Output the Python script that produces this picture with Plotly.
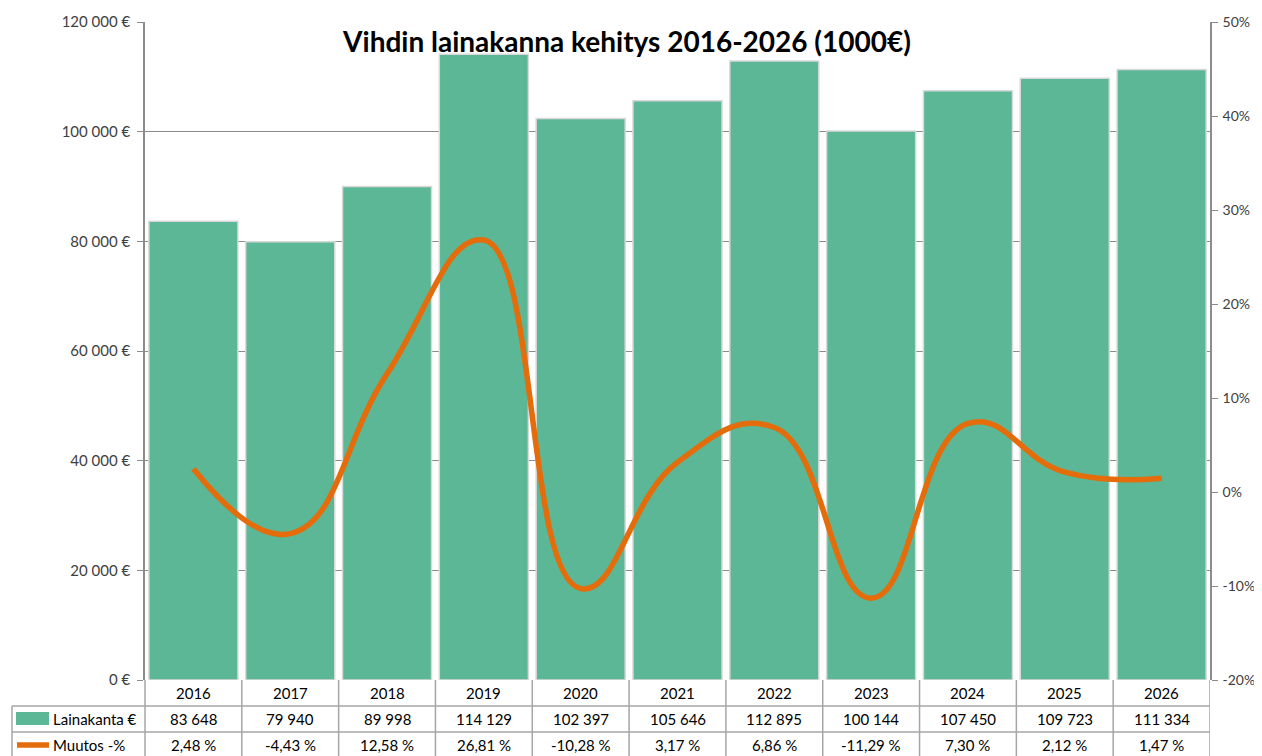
import plotly.graph_objects as go

years = ["2016", "2017", "2018", "2019", "2020", "2021", "2022", "2023", "2024", "2025", "2026"]
lainakanta = [83648, 79940, 89998, 114129, 102397, 105646, 112895, 100144, 107450, 109723, 111334]
muutos = [2.48, -4.43, 12.58, 26.81, -10.28, 3.17, 6.86, -11.29, 7.30, 2.12, 1.47]
left_ticks = [0, 20000, 40000, 60000, 80000, 100000, 120000]
right_ticks = [-20, -10, 0, 10, 20, 30, 40, 50]
title = "Vihdin lainakanna kehitys 2016-2026 (1000€)"
row_labels = ["Lainakanta €", "Muutos -%"]

BAR = "#5cb796"
LINE = "#e46c0a"
GRID = "#8c8c8c"
FONT = "Lato, Carlito, Calibri, sans-serif"

def fmt_thousands(v):
    return f"{v:,}".replace(",", " ")

def fmt_pct(v):
    return f"{v:.2f}".replace(".", ",") + " %"

# page body has an 8px margin; figure placed at (8, 8)
OFF = 8
W, H = 1262 - OFF, 756 - OFF
ml, mr, mt, mb = 145 - OFF, 52, 22 - OFF, 76
pw = W - ml - mr
ph = H - mt - mb
bottom_pix = 680  # reference pixel of plot bottom

def py(pix):
    return (bottom_pix - pix) / ph

def pxp(pix):
    return (pix - 145) / pw

n = len(years)
xs = list(range(n))

fig = go.Figure()
fig.add_trace(go.Bar(x=xs, y=lainakanta, marker=dict(color=BAR, line=dict(color="#d9d9d9", width=1.5)),
                     name=row_labels[0], yaxis="y", showlegend=False))
fig.add_trace(go.Scatter(x=xs, y=muutos, mode="lines", line=dict(color=LINE, width=5.5, shape="spline", smoothing=1.3),
                         name=row_labels[1], yaxis="y2", showlegend=False))

fig.update_layout(
    width=W, height=H,
    margin=dict(l=ml, r=mr, t=mt, b=mb, autoexpand=False),
    paper_bgcolor="white", plot_bgcolor="white",
    bargap=0.08,
    font=dict(family=FONT, size=15, color="#404040"),
    xaxis=dict(range=[-0.5, n - 0.5], showticklabels=False, showgrid=False, zeroline=False,
               showline=False, ticks=""),
    yaxis=dict(range=[0, 120000], tickvals=left_ticks, ticktext=[fmt_thousands(v) + " €" for v in left_ticks],
               showgrid=True, gridcolor=GRID, gridwidth=1, zeroline=False, showline=True, linecolor=GRID,
               linewidth=1.5, ticks="outside", ticklen=6, tickcolor=GRID, ticklabelstandoff=4),
    yaxis2=dict(range=[-20, 50], overlaying="y", side="right", tickvals=right_ticks,
                ticktext=[f"{v}%" for v in right_ticks], showgrid=False, zeroline=False, showline=True,
                linecolor=GRID, linewidth=1.5, ticks="outside", ticklen=6, tickcolor=GRID, ticklabelstandoff=2,
                tickfont=dict(size=14)),
    title=dict(text="<b>" + title + "</b>", x=(627 - OFF) / W, xanchor="center", y=(H - (42 - OFF)) / H,
               yanchor="middle", font=dict(family=FONT, size=28, color="black")),
)

shapes = []
ann = []
tbl_col = "#a6a6a6"
lw = 1.5
shapes.append(dict(type="line", xref="paper", yref="paper", x0=pxp(12), x1=1, y0=py(706), y1=py(706), line=dict(color=tbl_col, width=lw)))
shapes.append(dict(type="line", xref="paper", yref="paper", x0=pxp(12), x1=1, y0=py(732), y1=py(732), line=dict(color=tbl_col, width=lw)))
shapes.append(dict(type="line", xref="paper", yref="paper", x0=pxp(12), x1=pxp(12), y0=py(706), y1=py(760), line=dict(color=tbl_col, width=lw)))
shapes.append(dict(type="line", xref="paper", yref="paper", x0=0, x1=0, y0=py(680), y1=py(760), line=dict(color=tbl_col, width=lw)))
for i in range(1, n + 1):
    shapes.append(dict(type="line", xref="x", yref="paper", x0=i - 0.5, x1=i - 0.5, y0=py(680), y1=py(760),
                       line=dict(color=tbl_col, width=lw)))
# legend keys
shapes.append(dict(type="rect", xref="paper", yref="paper", x0=pxp(16), x1=pxp(49), y0=py(725), y1=py(712),
                   fillcolor=BAR, line=dict(width=0)))
shapes.append(dict(type="line", xref="paper", yref="paper", x0=pxp(17), x1=pxp(49), y0=py(745), y1=py(745),
                   line=dict(color=LINE, width=5.5)))

mid = lambda a, b: py((a + b) / 2)
tf = dict(family=FONT, size=15, color="black")
for i, yr in enumerate(years):
    ann.append(dict(x=i, y=mid(680, 706), xref="x", yref="paper", text=yr, showarrow=False, font=tf,
                    xanchor="center", yanchor="middle"))
    ann.append(dict(x=i, y=mid(706, 732), xref="x", yref="paper", text=fmt_thousands(lainakanta[i]), showarrow=False,
                    font=tf, xanchor="center", yanchor="middle"))
    ann.append(dict(x=i, y=mid(732, 758), xref="x", yref="paper", text=fmt_pct(muutos[i]), showarrow=False,
                    font=tf, xanchor="center", yanchor="middle"))
ann.append(dict(x=pxp(51), y=mid(706, 732), xref="paper", yref="paper", text=row_labels[0], showarrow=False,
                xanchor="left", yanchor="middle", font=tf))
ann.append(dict(x=pxp(51), y=mid(732, 758), xref="paper", yref="paper", text=row_labels[1], showarrow=False,
                xanchor="left", yanchor="middle", font=tf))

fig.update_layout(shapes=shapes, annotations=ann)
fig.write_html("out.html")
